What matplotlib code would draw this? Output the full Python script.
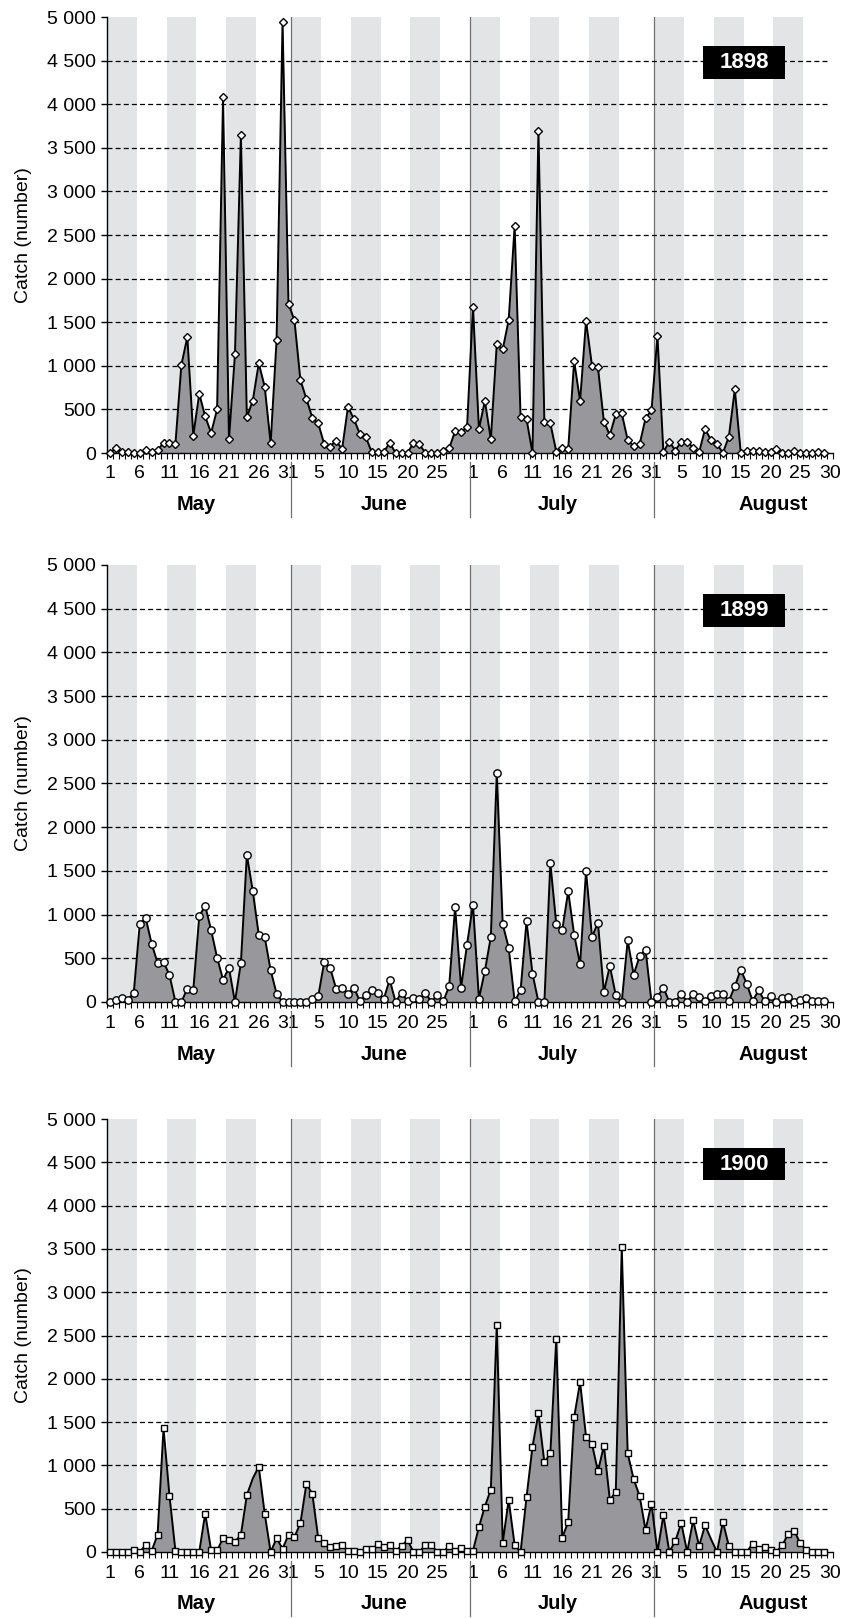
import numpy as np
import matplotlib
matplotlib.use("Agg")
import matplotlib.pyplot as plt
from matplotlib.ticker import FuncFormatter
from matplotlib.patches import Rectangle
from matplotlib.transforms import blended_transform_factory

plt.rcParams['font.family'] = ['Liberation Sans', 'DejaVu Sans']

# daily catch, 1 May - 29 Aug
may_1898 = [0, 55, 10, 10, 0, 0, 35, 10, 40, 110, 110, 105, 1010, 1330, 200, 680,
            420, 230, 500, 4080, 160, 1130, 3650, 410, 600, 1030, 760, 110, 1300, 4940, 1710]
june_1898 = [1520, 837, 623, 405, 340, 103, 73, 141, 42, 531, 386, 218, 180, 8, 8,
             8, 118, 0, 0, 0, 118, 100, 0, 0, 0, 23, 53, 252, 237, 294]
july_1898 = [1678, 275, 596, 157, 1250, 1189, 1525, 2603, 413, 390, 0, 3693, 352, 340, 15,
             53, 42, 1055, 596, 1518, 998, 982, 359, 206, 443, 455, 149, 80, 99, 398, 489]
aug_1898 = [1342, 8, 130, 27, 130, 130, 61, 8, 275, 149, 103, 0, 187, 729, 4,
            27, 27, 27, 15, 15, 46, 4, 0, 27, 0, 0, 0, 15, 0]

may_1899 = [0, 19, 50, 19, 107, 889, 962, 668, 447, 458, 309, 0, 0, 153, 134, 981,
            1103, 821, 508, 256, 389, 0, 447, 1683, 1267, 771, 744, 363, 95, 0, 0]
june_1899 = [0, 0, 0, 31, 65, 458, 389, 153, 164, 88, 164, 8, 76, 134, 107,
             31, 256, 0, 107, 8, 50, 31, 107, 0, 76, 8, 179, 1088, 164, 656]
july_1899 = [1115, 38, 355, 744, 2622, 889, 622, 8, 134, 924, 324, 0, 0, 1592, 889,
             821, 1267, 771, 431, 1500, 744, 908, 115, 412, 76, 0, 706, 313, 523, 599, 0]
aug_1899 = [57, 164, 0, 0, 95, 0, 95, 57, 11, 72, 95, 95, 11, 179, 370,
            210, 11, 134, 11, 72, 0, 42, 57, 0, 27, 42, 11, 11, 11]

may_1900 = [0, 0, 0, 0, 23, 0, 81, 12, 200, 1427, 648, 12, 0, 0, 0, 0,
            444, 19, 19, 158, 139, 120, 197, 656, 850, 984, 444, 0, 158, 39, 197]
june_1900 = [174, 332, 783, 675, 158, 108, 58, 69, 81, 12, 12, 0, 31, 31, 89,
             58, 81, 12, 69, 139, 0, 0, 81, 81, 0, 0, 69, 12, 50, 12]
july_1900 = [12, 289, 525, 721, 2623, 108, 602, 81, 0, 633, 1215, 1601, 1034, 1138, 2461,
             166, 347, 1555, 1960, 1331, 1246, 930, 1227, 602, 694, 3522, 1138, 841, 648, 255, 559]
aug_1900 = [0, 424, 0, 127, 332, 0, 367, 69, 309, 150, 0, 347, 69, 0, 0,
            0, 96, 39, 58, 23, 0, 81, 212, 243, 100, 23, 0, 0, 0]

years = ["1898", "1899", "1900"]
catches = [may_1898 + june_1898 + july_1898 + aug_1898,
           may_1899 + june_1899 + july_1899 + aug_1899,
           may_1900 + june_1900 + july_1900 + aug_1900]
markers = ["D", "o", "s"]
marker_sizes = [4.5, 5.3, 4.9]

months = ["May", "June", "July", "August"]
month_days = [31, 30, 31, 30]
month_tick_days = [[1, 6, 11, 16, 21, 26, 31], [5, 10, 15, 20, 25],
                   [1, 6, 11, 16, 21, 26, 31], [5, 10, 15, 20, 25, 30]]
month_label_x = [14.5, 46, 75.3, 111.5]

starts = np.cumsum([0] + month_days[:-1])
n_days = sum(month_days)

tick_pos = []
tick_lab = []
for s, days in zip(starts, month_tick_days):
    for d in days:
        tick_pos.append(s + d - 1)
        tick_lab.append(str(d))

W, H = 845, 1618
tops = [17, 565, 1119]
bottoms = [453, 1002, 1552]

fig = plt.figure(figsize=(W / 100, H / 100), dpi=100)

fmt = FuncFormatter(lambda v, p: f"{int(v):,}".replace(",", " "))

for k in range(3):
    ax = fig.add_axes([107 / W, 1 - bottoms[k] / H, 726 / W, (bottoms[k] - tops[k]) / H])
    y = np.array(catches[k])
    x = np.arange(len(y))

    for s in starts:
        for off in (0, 10, 20):
            ax.axvspan(s + off - 0.5, s + off + 4.5, color="#e3e4e6", lw=0, zorder=0)
    for s in starts[1:]:
        ax.axvline(s - 0.5, color="#707070", lw=0.9, zorder=1)
    for v in range(500, 5000, 500):
        ax.axhline(v, xmax=0.992, color="black", lw=0.9, ls=(0, (4, 2.5)), zorder=1)

    ax.fill_between(x, y, 0, color="#98989c", lw=0, zorder=2)
    mk = list(range(len(y)))
    if k == 2:
        mk.remove(24)
        mk.remove(101)
    ax.plot(x, y, color="black", lw=1.4, marker=markers[k], ms=marker_sizes[k],
            mfc="white", mec="black", mew=1.0, markevery=mk, zorder=3, clip_on=False)

    ax.set_xlim(-0.5, n_days - 0.5)
    ax.set_ylim(0, 5000)
    for sp in ("top", "right"):
        ax.spines[sp].set_visible(False)
    ax.spines["left"].set_linewidth(1.0)
    ax.spines["bottom"].set_linewidth(1.0)

    ax.set_yticks(range(0, 5001, 500))
    ax.yaxis.set_major_formatter(fmt)
    ax.tick_params(axis="y", length=4, width=1, pad=4, labelsize=14)

    ax.set_xticks(tick_pos)
    ax.set_xticklabels(tick_lab)
    ax.set_xticks(np.arange(-0.5, n_days, 1), minor=True)
    ax.tick_params(axis="x", which="major", length=0, pad=9, labelsize=14)
    ax.tick_params(axis="x", which="minor", length=4, width=0.8)

    tr = blended_transform_factory(ax.transData, ax.transAxes)
    for name, mx in zip(months, month_label_x):
        ax.text(mx, -0.119, name, transform=tr, ha="center", va="center",
                fontsize=14.5, fontweight="bold")
    for s in starts[1:]:
        ax.plot([s - 0.5, s - 0.5], [-0.021, -0.147], transform=tr, color="#707070",
                lw=0.9, clip_on=False)

    ax.text(-0.1157, 0.5, "Catch (number)", transform=ax.transAxes, rotation=90,
            ha="center", va="center", fontsize=14)

    ax.add_patch(Rectangle((99.7, 4290), 13.7, 377, facecolor="black", edgecolor="none", zorder=5))
    ax.text(106.55, 4478, years[k], ha="center", va="center", color="white",
            fontsize=16, fontweight="bold", zorder=6)

fig.savefig("out.png", dpi=100)
